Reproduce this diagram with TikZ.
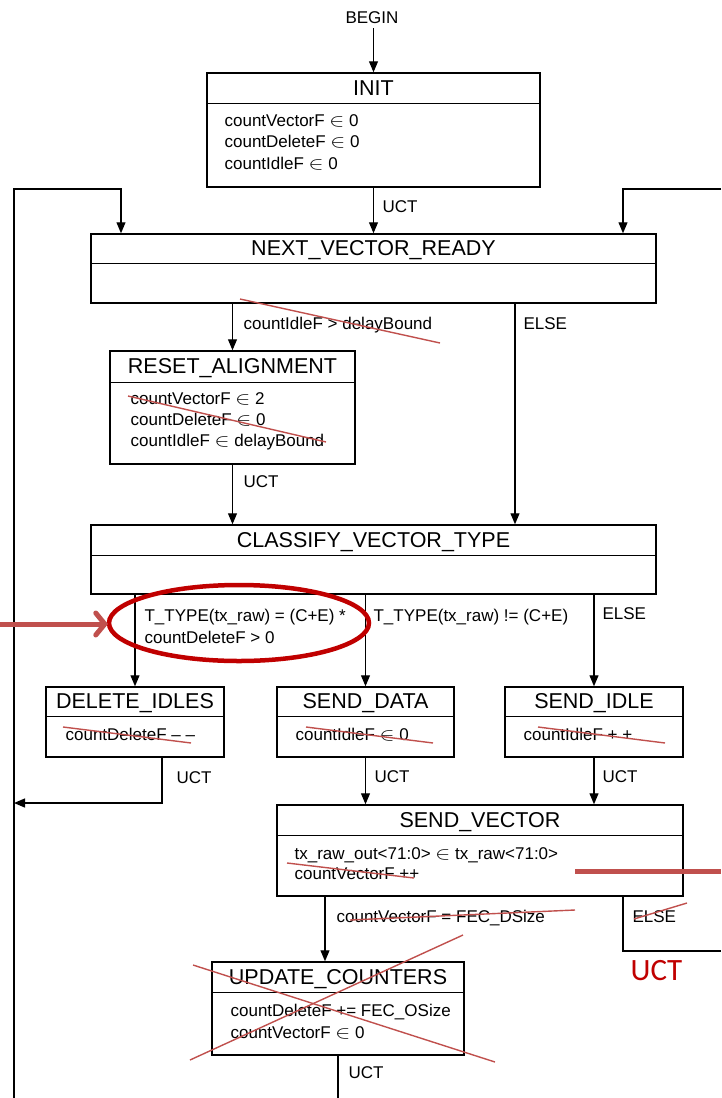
\documentclass[tikz,border=0pt]{standalone}
\usepackage{graphicx}
\usepackage{fontspec}
\setmainfont{Liberation Sans}
\newfontfamily\notefont{Carlito}
\usetikzlibrary{arrows.meta}
\definecolor{markred}{RGB}{192,80,77}
\definecolor{ringred}{RGB}{192,0,0}
\newcommand\asg{\scalebox{1.3}[1.05]{$\in$}}

\begin{document}
\begin{tikzpicture}[x=1pt,y=-1pt,line width=1.2pt,>={Triangle[length=11pt,width=9pt]},
  state/.style={draw,line width=1.5pt,inner sep=0pt},
  title/.style={anchor=base,inner sep=0pt,font=\fontsize{21.5}{24}\selectfont},
  body/.style={anchor=base west,inner sep=0pt,font=\fontsize{17}{20}\selectfont},
  cut/.style={markred,line width=1.4pt}]
\useasboundingbox (0,0) rectangle (721,1098);
% states
\node[state,minimum width=333pt,minimum height=114pt] (init) at (373.5,130) {};
\node[state,minimum width=565pt,minimum height=69pt] (nvr) at (373.5,268.5) {};
\node[state,minimum width=245pt,minimum height=113pt] (reset) at (232.5,407.5) {};
\node[state,minimum width=565pt,minimum height=69pt] (classify) at (373.5,559.5) {};
\node[state,minimum width=178pt,minimum height=70pt] (delete) at (135,722) {};
\node[state,minimum width=177pt,minimum height=70pt] (senddata) at (365.5,722) {};
\node[state,minimum width=178pt,minimum height=70pt] (sendidle) at (594,722) {};
\node[state,minimum width=406pt,minimum height=91pt] (sendvec) at (480,850.5) {};
\node[state,minimum width=252pt,minimum height=93pt] (update) at (338,1008.5) {};
% title bars
\foreach \s/\h in {init/31,nvr/30,reset/32,classify/31,delete/30,senddata/30,sendidle/30,sendvec/31,update/31}
  \draw[line width=1.5pt] ([yshift=-\h pt]\s.north west) -- ([yshift=-\h pt]\s.north east);
\node[title] (initT) at ([yshift=-23pt]init.north) {INIT};
\node[title] (nvrT) at ([yshift=-22pt]nvr.north) {NEXT\_VECTOR\_READY};
\node[title] (resetT) at ([yshift=-23pt]reset.north) {RESET\_ALIGNMENT};
\node[title] (classifyT) at ([yshift=-23pt]classify.north) {CLASSIFY\_VECTOR\_TYPE};
\node[title] (deleteT) at ([yshift=-22pt]delete.north) {DELETE\_IDLES};
\node[title] (senddataT) at ([yshift=-22pt]senddata.north) {SEND\_DATA};
\node[title] (sendidleT) at ([yshift=-22pt]sendidle.north) {SEND\_IDLE};
\node[title] (sendvecT) at ([yshift=-23pt]sendvec.north) {SEND\_VECTOR};
\node[title] (updateT) at ([yshift=-23pt]update.north) {UPDATE\_COUNTERS};
% state actions
\node[body] (initA) at (224,126) {countVectorF \asg\ 0};
\node[body] (initB) at (224,147) {countDeleteF \asg\ 0};
\node[body] (initC) at (224,169) {countIdleF \asg\ 0};
\node[body] (resetA) at (130,404) {countVectorF \asg\ 2};
\node[body] (resetB) at (130,425) {countDeleteF \asg\ 0};
\node[body] (resetC) at (130,446) {countIdleF \asg\ delayBound};
\node[body] (deleteA) at (65,740) {countDeleteF – –};
\node[body] (senddataA) at (295,740) {countIdleF \asg\ 0};
\node[body] (sendidleA) at (523,740) {countIdleF + +};
\node[body] (sendvecA) at (294,859) {tx\_raw\_out<71:0> \asg\ tx\_raw<71:0>};
\node[body] (sendvecB) at (294,879) {countVectorF ++};
\node[body] (updateA) at (230,1016) {countDeleteF += FEC\_OSize};
\node[body] (updateB) at (230,1038) {countVectorF \asg\ 0};
% begin and loop ends
\node[body,anchor=base] (begin) at (372,23) {BEGIN};
\coordinate (loopL) at (14,1098);
\coordinate (loopR) at (721,189);
\coordinate (elseR) at (721,951);
\coordinate (outB) at (338,1098);
% transitions
\draw[->] (init.north |- 0,28) -- (init.north);
\draw[->] (init.south) -- (nvr.north);
\draw[->] (loopL) |- (121,189) -- (nvr.north -| 121,0);
\draw[->] (loopR) -- (623,189) -- (nvr.north -| 623,0);
\draw[->] (nvr.south -| reset.north) -- (reset.north);
\draw[->] (nvr.south -| 515,0) -- (classify.north -| 515,0);
\draw[->] (reset.south) -- (classify.north -| reset.south);
\draw[->] (classify.south -| delete.north) -- (delete.north);
\draw[->] (classify.south -| senddata.north) -- (senddata.north);
\draw[->] (classify.south -| sendidle.north) -- (sendidle.north);
\draw[->] (delete.south -| 162,0) |- (14,803);
\draw[->] (senddata.south) -- (sendvec.north -| senddata.south);
\draw[->] (sendidle.south) -- (sendvec.north -| sendidle.south);
\draw[->] (sendvec.south -| 325,0) -- (update.north -| 325,0);
\draw (sendvec.south -| 623,0) |- (elseR);
\draw (update.south) -- (outB);
% transition labels
\node[body] (l1) at (382,212) {UCT};
\node[body] (l2) at (243,329) {countIdleF > delayBound};
\node[body] (l3) at (523,329) {ELSE};
\node[body] (l4) at (243,487) {UCT};
\node[body] (l5) at (144,621) {T\_TYPE(tx\_raw) = (C+E) *};
\node[body] (l6) at (144,643) {countDeleteF > 0};
\node[body] (l7) at (373,621) {T\_TYPE(tx\_raw) != (C+E)};
\node[body] (l8) at (602,619) {ELSE};
\node[body] (l9) at (176,783) {UCT};
\node[body] (l10) at (374,782) {UCT};
\node[body] (l11) at (602,782) {UCT};
\node[body] (l12) at (336,922) {countVectorF = FEC\_DSize};
\node[body] (l13) at (632,922) {ELSE};
\node[body] (l14) at (348,1078) {UCT};
% red review marks
\draw[cut] (240,299) -- (440,343);
\draw[cut] (128,396) -- (326,442);
\draw[cut] (63,727) -- (191,743);
\draw[cut] (306,727) -- (433,743);
\draw[cut] (538,727) -- (665,743);
\draw[cut] (287,863) -- (414,878);
\draw[cut] (350,920) -- (575,910);
\draw[cut] (634,919) -- (687,903);
\draw[cut] (193,965) -- (495,1062);
\draw[cut] (190,1060) -- (463,935);
\draw[ringred,line width=4.5pt] (239,623) ellipse [x radius=130pt,y radius=38pt];
\draw[markred,line width=5pt,-{Straight Barb[length=9pt,width=22pt,line cap=round]}] (0,624) -- (108,624);
\draw[markred,line width=5pt] (575,871) -- (721,871);
\node[anchor=base west,inner sep=0pt,text=ringred,font=\notefont\fontsize{31}{34}\selectfont] (uctNote) at (630,980) {UCT};
\end{tikzpicture}
\end{document}
